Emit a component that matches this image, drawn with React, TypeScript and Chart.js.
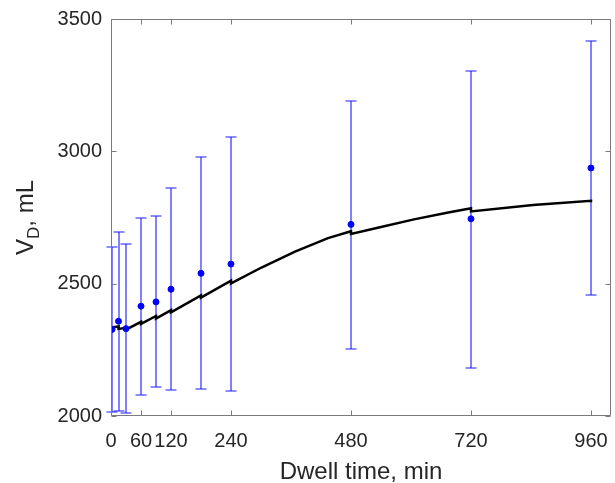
import React, { useEffect, useRef } from "react";
import { Chart, registerables } from "chart.js";

Chart.register(...registerables);

const sampleTimes = [2, 15, 30, 60, 90, 120, 180, 240, 480, 720, 960];
const sampleMeans = [2327, 2358, 2330, 2415, 2431, 2479, 2539, 2574, 2724, 2745, 2937];
const sampleUpper = [2638, 2696, 2648, 2750, 2756, 2863, 2980, 3055, 3192, 3304, 3418];
const sampleLower = [2016, 2020, 2013, 2080, 2110, 2097, 2101, 2093, 2254, 2183, 2457];

const modelTimes = [0, 15, 15, 30, 30, 60, 60, 90, 90, 120, 120, 180, 180, 240, 240, 302, 368, 434, 480, 480, 540, 606, 672, 720, 720, 844, 960, 960];
const modelValues = [2334, 2338, 2329, 2333, 2326, 2356, 2348, 2378, 2368, 2400, 2392, 2456, 2447, 2511, 2501, 2562, 2621, 2672, 2698, 2688, 2714, 2743, 2768, 2785, 2773, 2797, 2813, 2808];

const xTickValues = [0, 60, 120, 240, 480, 720, 960];
const yTickValues = [2000, 2500, 3000, 3500];

const xTitle = "Dwell time, min";
const yTitleMain = "V";
const yTitleSub = "D";
const yTitleRest = ", mL";

const FONT = "'Liberation Sans', Arial, Helvetica, sans-serif";
const AXIS_COLOR = "#7a7a7a";
const TEXT_COLOR = "#262626";

const errorBarPlugin = {
  id: "errorBars",
  beforeDatasetsDraw(chart: any) {
    const ctx = chart.ctx;
    const xs = chart.scales.x;
    const ys = chart.scales.y;
    ctx.save();
    ctx.strokeStyle = "#1a1aff";
    ctx.lineWidth = 1.1;
    for (let i = 0; i < sampleTimes.length; i++) {
      const x = Math.round(xs.getPixelForValue(sampleTimes[i]));
      const yt = Math.round(ys.getPixelForValue(sampleUpper[i]));
      const yb = Math.round(ys.getPixelForValue(sampleLower[i]));
      ctx.beginPath();
      ctx.moveTo(x, yt);
      ctx.lineTo(x, yb);
      ctx.moveTo(x - 5.5, yt);
      ctx.lineTo(x + 5.5, yt);
      ctx.moveTo(x - 5.5, yb);
      ctx.lineTo(x + 5.5, yb);
      ctx.stroke();
    }
    ctx.restore();
  },
};

const framePlugin = {
  id: "frame",
  afterDraw(chart: any) {
    const ctx = chart.ctx;
    const { left, right, top, bottom } = chart.chartArea;
    const xs = chart.scales.x;
    const ys = chart.scales.y;
    ctx.save();
    ctx.strokeStyle = AXIS_COLOR;
    ctx.lineWidth = 1;
    const L = Math.round(left) + 0.5;
    const R = Math.round(right) - 0.5;
    const T = Math.round(top) + 0.5;
    const B = Math.round(bottom) - 0.5;
    ctx.beginPath();
    ctx.rect(L, T, R - L, B - T);
    const tl = 5;
    for (const v of xTickValues) {
      const x = Math.round(xs.getPixelForValue(v)) + 0.5;
      ctx.moveTo(x, B);
      ctx.lineTo(x, B - tl);
      ctx.moveTo(x, T);
      ctx.lineTo(x, T + tl);
    }
    for (const v of yTickValues) {
      const y = Math.round(ys.getPixelForValue(v)) + 0.5;
      ctx.moveTo(L, y);
      ctx.lineTo(L + tl, y);
      ctx.moveTo(R, y);
      ctx.lineTo(R - tl, y);
    }
    ctx.stroke();

    ctx.fillStyle = TEXT_COLOR;
    ctx.textBaseline = "alphabetic";
    ctx.font = `24px ${FONT}`;
    ctx.textAlign = "center";
    ctx.fillText(xTitle, (left + right) / 2, 479);

    const mainFont = `24px ${FONT}`;
    const subFont = `17px ${FONT}`;
    ctx.font = mainFont;
    const wV = ctx.measureText(yTitleMain).width;
    const wRest = ctx.measureText(yTitleRest).width;
    ctx.font = subFont;
    const wD = ctx.measureText(yTitleSub).width;
    const total = wV + wD + wRest;
    ctx.translate(33, (top + bottom) / 2);
    ctx.rotate(-Math.PI / 2);
    ctx.textAlign = "left";
    let xPos = -total / 2;
    ctx.font = mainFont;
    ctx.fillText(yTitleMain, xPos, 0);
    xPos += wV;
    ctx.font = subFont;
    ctx.fillText(yTitleSub, xPos, 6);
    xPos += wD;
    ctx.font = mainFont;
    ctx.fillText(yTitleRest, xPos, 0);
    ctx.restore();
  },
};

export default function App() {
  const canvasRef = useRef<HTMLCanvasElement | null>(null);

  useEffect(() => {
    document.body.style.margin = "0";
    const canvas = canvasRef.current;
    if (!canvas) return;
    const chart = new Chart(canvas, {
      type: "line",
      data: {
        datasets: [
          {
            type: "scatter",
            label: "Measured",
            data: sampleTimes.map((t, i) => ({ x: t, y: sampleMeans[i] })),
            backgroundColor: "#0000ff",
            borderColor: "#0000ff",
            pointRadius: 3,
            pointHoverRadius: 3,
            showLine: false,
            order: 0,
          } as any,
          {
            type: "line",
            label: "Model",
            data: modelTimes.map((t, i) => ({ x: t, y: modelValues[i] })),
            borderColor: "#000000",
            borderWidth: 2.5,
            pointRadius: 0,
            tension: 0,
            fill: false,
            order: 1,
          } as any,
        ],
      },
      options: {
        responsive: false,
        animation: false,
        devicePixelRatio: 1,
        layout: { padding: { top: 19, right: 1, left: 0, bottom: 0 } },
        plugins: {
          legend: { display: false },
          tooltip: { enabled: false },
        },
        scales: {
          x: {
            type: "linear",
            min: 0,
            max: 1000,
            grid: { display: false, drawTicks: false },
            border: { display: false },
            afterBuildTicks: (scale: any) => {
              scale.ticks = xTickValues.map((v) => ({ value: v }));
            },
            afterFit: (scale: any) => {
              scale.height = 67;
              scale.paddingLeft = 0;
              scale.paddingRight = 0;
            },
            ticks: {
              autoSkip: false,
              maxRotation: 0,
              minRotation: 0,
              padding: 13,
              color: TEXT_COLOR,
              font: { family: FONT, size: 20 },
              callback: (v: any) => String(v),
            },
          },
          y: {
            type: "linear",
            min: 2000,
            max: 3500,
            grid: { display: false, drawTicks: false },
            border: { display: false },
            afterBuildTicks: (scale: any) => {
              scale.ticks = yTickValues.map((v) => ({ value: v }));
            },
            afterFit: (scale: any) => {
              scale.width = 111;
              scale.paddingTop = 0;
              scale.paddingBottom = 0;
            },
            ticks: {
              padding: 9,
              color: TEXT_COLOR,
              font: { family: FONT, size: 20 },
              callback: (v: any) => String(v),
            },
          },
        },
      },
      plugins: [errorBarPlugin, framePlugin],
    });
    return () => chart.destroy();
  }, []);

  return (
    <div style={{ position: "absolute", left: 0, top: 0, width: 615, height: 483, background: "#fff" }}>
      <canvas ref={canvasRef} width={615} height={483} style={{ width: 615, height: 483, display: "block" }} />
    </div>
  );
}
